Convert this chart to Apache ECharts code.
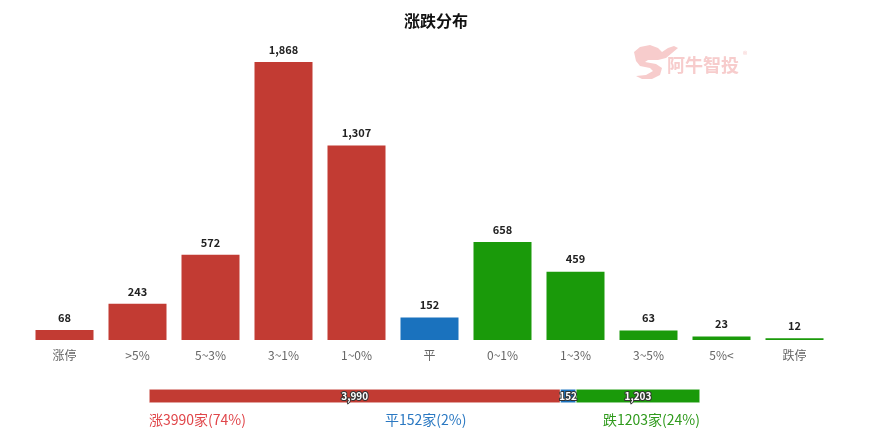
<!DOCTYPE html>
<html><head><meta charset="utf-8">
<script src="https://cdn.jsdelivr.net/npm/echarts@6/dist/echarts.min.js"></script>
<style>html,body{margin:0;padding:0;background:#fff}#c{width:872px;height:443px}</style>
</head><body><div id="c"></div>
<script>
const categories = ['涨停', '>5%', '5~3%', '3~1%', '1~0%', '平', '0~1%', '1~3%', '3~5%', '5%<', '跌停'];
const values = [68, 243, 572, 1868, 1307, 152, 658, 459, 63, 23, 12];
const barGroups = ['red', 'red', 'red', 'red', 'red', 'blue', 'green', 'green', 'green', 'green', 'green'];
const summaryNames = ['涨', '平', '跌'];
const summaryValues = [3990, 152, 1203];
const summaryPct = ['74%', '2%', '24%'];

const COLORS = { red: '#c23b33', blue: '#1a72be', green: '#1a9a0a' };
const TEXTCOLORS = ['#e0464a', '#2a78c2', '#2f9a1c'];
const FONT = '"Noto Sans CJK SC", "Noto Sans", sans-serif';
const total = summaryValues.reduce((a, b) => a + b, 0);
const fmt = v => v.toLocaleString('en-US');

const chart = echarts.init(document.getElementById('c'));
const summarySeries = summaryValues.map((v, i) => ({
  type: 'bar', stack: 's', xAxisIndex: 1, yAxisIndex: 1, barWidth: 14,
  data: [v],
  itemStyle: { color: COLORS[['red', 'blue', 'green'][i]], borderColor: '#fff', borderWidth: 0.5 },
  label: { show: true, position: 'inside', formatter: p => fmt(p.value), color: '#fff',
    fontSize: 10, fontWeight: 'bold', fontFamily: FONT, textBorderColor: '#333', textBorderWidth: 2 },
  silent: true
}));

chart.setOption({
  animation: false,
  title: { text: '涨跌分布', left: 'center', top: 8,
    textStyle: { fontSize: 16, fontWeight: 'bold', color: '#111', fontFamily: FONT } },
  grid: [
    { left: 28, right: 41, top: 62, bottom: 103 },
    { left: 149, right: 172, top: 389, height: 14 }
  ],
  xAxis: [
    { type: 'category', data: categories, gridIndex: 0,
      axisLine: { show: false }, axisTick: { show: false },
      axisLabel: { color: '#666', fontSize: 12, fontFamily: FONT, margin: 9 } },
    { type: 'value', gridIndex: 1, min: 0, max: total, show: false }
  ],
  yAxis: [
    { type: 'value', gridIndex: 0, min: 0, max: 'dataMax', show: false, splitLine: { show: false } },
    { type: 'category', gridIndex: 1, data: ['all'], show: false }
  ],
  series: [{
    type: 'bar', xAxisIndex: 0, yAxisIndex: 0, barWidth: 58,
    data: values.map((v, i) => ({ value: v, itemStyle: { color: COLORS[barGroups[i]] } })),
    label: { show: true, position: 'top', distance: 7, formatter: p => fmt(p.value),
      color: '#222', fontSize: 11, fontWeight: 'bold', fontFamily: FONT }
  }].concat(summarySeries),
  graphic: [
    { type: 'text', left: 149, top: 413, style: { text: summaryNames[0] + summaryValues[0] + '家(' + summaryPct[0] + ')', fill: TEXTCOLORS[0], font: '14px ' + FONT } },
    { type: 'text', left: 385, top: 413, style: { text: summaryNames[1] + summaryValues[1] + '家(' + summaryPct[1] + ')', fill: TEXTCOLORS[1], font: '14px ' + FONT } },
    { type: 'text', right: 172, top: 413, style: { text: summaryNames[2] + summaryValues[2] + '家(' + summaryPct[2] + ')', fill: TEXTCOLORS[2], font: '14px ' + FONT } },
    { type: 'text', left: 667, top: 56, style: { text: '阿牛智投', fill: '#f7cccc', font: 'bold 18px ' + FONT } },
    { type: 'text', left: 743, top: 50, style: { text: '®', fill: '#f7cccc', font: '9px ' + FONT } },
    { type: 'polygon', shape: { points: [[634,52],[640,47],[650,45],[658,48],[662,52],[668,48],[674,46],[678,48],[672,53],[666,58],[658,60],[648,60],[645,62],[656,64],[662,68],[660,75],[652,79],[642,79],[636,76],[646,75],[653,71],[650,68],[640,66],[636,61]] },
      style: { fill: '#f7cccc' } }
  ]
});
</script></body></html>
